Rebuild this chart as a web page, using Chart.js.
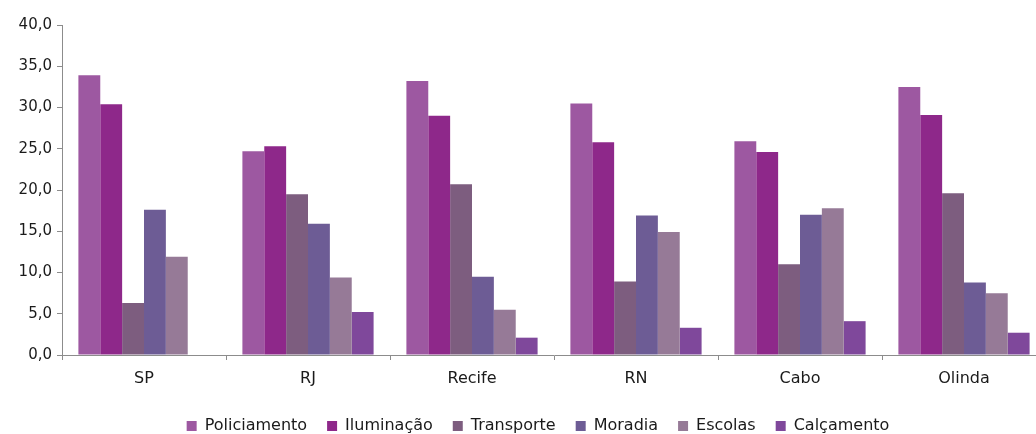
<!DOCTYPE html>
<html>
<head>
<meta charset="utf-8">
<script src="https://cdn.jsdelivr.net/npm/chart.js@4/dist/chart.umd.min.js"></script>
<style>
  html, body { margin: 0; padding: 0; background: #fff; overflow: hidden; }
  #wrap { width: 1036px; height: 434px; overflow: hidden; }
</style>
</head>
<body>
<div id="wrap"><canvas id="chart-canvas" width="1076" height="444"></canvas></div>
<script>
const cities = ['SP', 'RJ', 'Recife', 'RN', 'Cabo', 'Olinda'];

const policiamento = [33.9, 24.7, 33.2, 30.5, 25.9, 32.5];
const iluminacao   = [30.4, 25.3, 29.0, 25.8, 24.6, 29.1];
const transporte   = [6.3, 19.5, 20.7, 8.9, 11.0, 19.6];
const moradia      = [17.6, 15.9, 9.5, 16.9, 17.0, 8.8];
const escolas      = [11.9, 9.4, 5.5, 14.9, 17.8, 7.5];
const calcamento   = [0, 5.2, 2.1, 3.3, 4.1, 2.7];

const seriesNames  = ['Policiamento', 'Iluminação', 'Transporte', 'Moradia', 'Escolas', 'Calçamento'];
const seriesValues = [policiamento, iluminacao, transporte, moradia, escolas, calcamento];
const seriesColors = ['#9d58a1', '#8e288a', '#7d5d7f', '#6d5c95', '#967a97', '#7f489b'];

const axisColor = '#8c8c8c';
const tickFont = { family: 'DejaVu Sans, sans-serif', size: 15 };
const labelFont = { family: 'DejaVu Sans, sans-serif', size: 16 };

// legend sits a bit right of the plot centre in the original
const legendShift = {
  id: 'legendShift',
  afterLayout(chart){
    chart.legend.left += 15;
    chart.legend.right += 15;
  }
};

function make_bar_chart(){
  const ctx = document.getElementById('chart-canvas');
  return new Chart(ctx, {
    type: 'bar',
    data: {
      labels: cities,
      datasets: seriesNames.map((name, i) => ({
        label: name,
        data: seriesValues[i],
        backgroundColor: seriesColors[i],
        borderWidth: 0,
        categoryPercentage: 0.8,
        barPercentage: 1.0
      }))
    },
    options: {
      responsive: false,
      animation: false,
      layout: {
        padding: { top: 25, left: 0, right: 30, bottom: 0 }
      },
      scales: {
        x: {
          border: { color: axisColor, width: 1 },
          grid: {
            offset: true,
            drawOnChartArea: false,
            drawTicks: true,
            tickLength: 5,
            color: axisColor
          },
          ticks: { color: '#1a1a1a', font: labelFont, padding: 9 },
          afterFit: function(scale){ scale.height = 43; }
        },
        y: {
          min: 0,
          max: 40,
          border: { color: axisColor, width: 1 },
          grid: {
            drawOnChartArea: false,
            drawTicks: true,
            tickLength: 5,
            color: axisColor
          },
          ticks: {
            stepSize: 5,
            color: '#1a1a1a',
            font: tickFont,
            padding: 5,
            callback: v => v.toFixed(1).replace('.', ',')
          },
          afterFit: function(scale){ scale.width = 62; }
        }
      },
      plugins: {
        tooltip: { enabled: false },
        legend: {
          position: 'bottom',
          labels: {
            color: '#1a1a1a',
            font: labelFont,
            boxWidth: 10,
            boxHeight: 10,
            padding: 20
          }
        }
      }
    },
    plugins: [legendShift]
  });
}

make_bar_chart();
</script>
</body>
</html>
